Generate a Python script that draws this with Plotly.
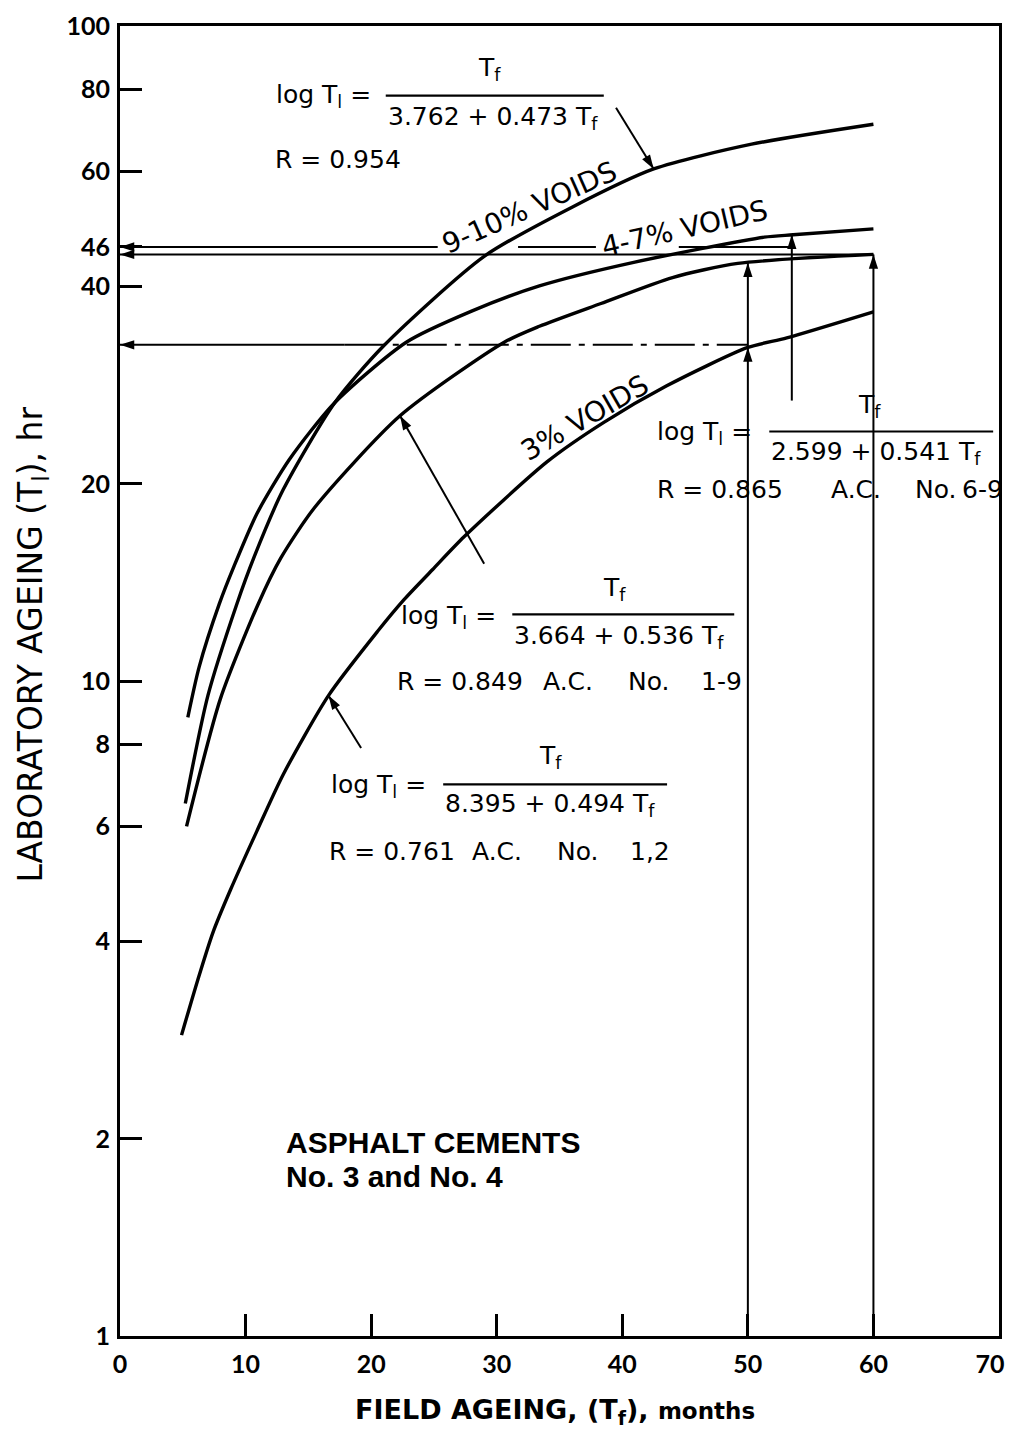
import numpy as np
import plotly.graph_objects as go

# ------------------------------------------------------------------
# Values
# (field ageing Tf in months, laboratory ageing Tl in hours)
# ------------------------------------------------------------------
tf_voids_9_10 = [5.2, 7.0, 9.3, 10.7, 13.0, 17.1, 21.0, 29.0, 36.0, 42.5, 50.3, 60.0]
tl_voids_9_10 = [6.5, 9.5, 13.1, 15.5, 19.6, 26.6, 32.5, 44.5, 52.9, 60.5, 66.0, 70.8]

tf_voids_4_7 = [5.4, 6.3, 7.9, 9.1, 10.9, 13.5, 17.1, 22.8, 28.0, 33.4, 41.0, 51.3, 53.6, 60.0]
tl_voids_4_7 = [8.8, 10.5, 13.1, 15.0, 18.0, 21.8, 26.6, 32.9, 36.7, 40.1, 43.6, 47.6, 48.0, 49.0]

tf_ac_1_9 = [5.3, 8.0, 11.0, 12.8, 15.5, 22.3, 30.6, 33.4, 38.3, 44.0, 49.2, 60.0]
tl_ac_1_9 = [6.0, 9.4, 13.1, 15.4, 18.4, 25.4, 32.9, 34.8, 37.7, 41.3, 43.4, 44.8]

tf_voids_3 = [4.9, 6.2, 7.4, 8.8, 10.9, 13.0, 16.6, 20.5, 22.6, 24.9, 27.4, 34.0, 38.5, 43.5, 50.0, 53.1, 60.0]
tl_voids_3 = [2.88, 3.5, 4.13, 4.8, 5.9, 7.2, 9.5, 11.9, 13.3, 14.8, 16.6, 21.6, 24.8, 28.2, 32.3, 33.4, 36.6]

# construction (read-off) lines
hline_tl = [46.0, 44.8, 32.6]          # laboratory ageing levels carried to the axis
hline_tf_end = [53.5, 60.0, 50.0]      # field ageing where each level line starts
vline_tf = [50.0, 50.0, 53.5, 60.0]
vline_tl_from = [1.0, 32.3, 26.8, 1.0]
vline_tl_to = [32.3, 43.5, 48.0, 44.8]

# pointers from the equations to the curves (tail -> tip)
ptr_tail_tf = [39.5, 29.0, 19.2]
ptr_tail_tl = [75.0, 15.1, 7.9]
ptr_tip_tf = [42.5, 22.3, 16.6]
ptr_tip_tl = [60.5, 25.4, 9.5]

x_ticks = [0, 10, 20, 30, 40, 50, 60, 70]
x_tick_text = ["0", "10", "20", "30", "40", "50", "60", "70\u00a0\u00a0\u00a0"]
y_ticks = [1, 2, 4, 6, 8, 10, 20, 40, 46, 60, 80, 100]
y_tick_text = ["1", "2", "4", "6", "8", "10", "20", "40", "46", "60", "80", "100"]

# ------------------------------------------------------------------
W, H = 1033, 1436
ML, MR, MT, MB = 120, 10, 18, 100
PW = W - ML - MR
PH = H - MT - MB
X_MAX = 70.0
DECADES = 2.0

TXT = "DejaVu Sans"
TICK = "Lato"


def pp(px, py):
    """reference pixel -> paper coordinates (for text placement)"""
    return (px - ML) / PW, (H - MB - py) / PH


def scr(x, y):
    return ML + x / X_MAX * PW, (H - MB) - np.log10(y) / DECADES * PH


fig = go.Figure()

curve_style = dict(color="black", width=3.4, shape="spline", smoothing=0.7)
for xs, ys in [(tf_voids_9_10, tl_voids_9_10), (tf_voids_4_7, tl_voids_4_7),
               (tf_ac_1_9, tl_ac_1_9), (tf_voids_3, tl_voids_3)]:
    fig.add_trace(go.Scatter(x=xs, y=ys, mode="lines", line=curve_style,
                             hoverinfo="skip"))

thin = dict(color="black", width=2)

# horizontal construction lines
# 46 level: broken where the curve labels sit
gaps46 = [(0.0, 25.3), (31.7, 37.9), (44.5, hline_tf_end[0])]
for a, b in gaps46:
    fig.add_trace(go.Scatter(x=[a, b], y=[hline_tl[0]] * 2, mode="lines",
                             line=thin, hoverinfo="skip"))
fig.add_trace(go.Scatter(x=[0, hline_tf_end[1]], y=[hline_tl[1]] * 2, mode="lines",
                         line=thin, hoverinfo="skip"))
fig.add_trace(go.Scatter(x=[0, 17.9], y=[hline_tl[2]] * 2, mode="lines",
                         line=thin, hoverinfo="skip"))
fig.add_trace(go.Scatter(x=[17.9, hline_tf_end[2]], y=[hline_tl[2]] * 2, mode="lines",
                         line=dict(color="black", width=2, dash="40px,8px,6px,8px"),
                         hoverinfo="skip"))

# vertical construction lines
for xv, y0, y1 in zip(vline_tf, vline_tl_from, vline_tl_to):
    fig.add_trace(go.Scatter(x=[xv, xv], y=[y0, y1], mode="lines", line=thin,
                             hoverinfo="skip"))

# pointer lines
for xt, yt, xh, yh in zip(ptr_tail_tf, ptr_tail_tl, ptr_tip_tf, ptr_tip_tl):
    fig.add_trace(go.Scatter(x=[xt, xh], y=[yt, yh], mode="lines", line=thin,
                             hoverinfo="skip"))

# arrow heads
tips_x, tips_y, angs = [], [], []


def head(xt, yt, xh, yh):
    sx0, sy0 = scr(xt, yt)
    sx1, sy1 = scr(xh, yh)
    ang = np.degrees(np.arctan2(sx1 - sx0, -(sy1 - sy0)))
    tips_x.append(xh)
    tips_y.append(yh)
    angs.append(float(ang))


head(25.3, hline_tl[0], 0, hline_tl[0])
head(hline_tf_end[1], hline_tl[1], 0, hline_tl[1])
head(17.9, hline_tl[2], 0, hline_tl[2])
for xv, y0, y1 in zip(vline_tf, vline_tl_from, vline_tl_to):
    head(xv, y0, xv, y1)
for xt, yt, xh, yh in zip(ptr_tail_tf, ptr_tail_tl, ptr_tip_tf, ptr_tip_tl):
    head(xt, yt, xh, yh)

fig.add_trace(go.Scatter(x=tips_x, y=tips_y, mode="markers", cliponaxis=False,
                         marker=dict(symbol="arrow", size=15, angle=angs,
                                     color="black", line=dict(width=0)),
                         hoverinfo="skip"))

# ------------------------------------------------------------------
ann = []


def text(t, px, py, size=25, anchor="left", angle=0, family=TXT, weight="normal"):
    x, y = pp(px, py)
    ann.append(dict(text=t, x=x, y=y, xref="paper", yref="paper", showarrow=False,
                    xanchor=anchor, yanchor="middle", textangle=angle,
                    font=dict(family=family, size=size, color="black", weight=weight)))


shapes = []


def bar(px0, px1, py):
    x0, y0 = pp(px0, py)
    x1, _ = pp(px1, py)
    shapes.append(dict(type="line", xref="paper", yref="paper", x0=x0, x1=x1,
                       y0=y0, y1=y0, line=dict(color="black", width=2.2)))


LOG = "log T<sub>l</sub> ="
TF = "T<sub>f</sub>"

# equation 1 (top)
text(LOG, 278, 88)
text(TF, 500, 61, anchor="center")
bar(393, 617, 88)
text("3.762 + 0.473 " + TF, 393, 111)
text("R = 0.954", 277, 152)

# equation 2 (right)
text(LOG, 670, 427)
text(TF, 890, 400, anchor="center")
bar(787, 1017, 426)
text("2.599 + 0.541 " + TF, 787, 448)
text("R = 0.865", 670, 484)
text("A.C.", 848, 484)
text("No.", 935, 484)
text("6-9", 983, 484)

# equation 3 (middle)
text(LOG, 407, 613)
text(TF, 628, 584, anchor="center")
bar(523, 751, 610)
text("3.664 + 0.536 " + TF, 523, 633)
text("R = 0.849", 402, 678)
text("A.C.", 552, 678)
text("No.", 640, 678)
text("1-9", 715, 678)

# equation 4 (lower)
text(LOG, 335, 783)
text(TF, 562, 753, anchor="center")
bar(452, 682, 781)
text("8.395 + 0.494 " + TF, 452, 802)
text("R = 0.761", 333, 849)
text("A.C.", 480, 849)
text("No.", 567, 849)
text("1,2", 642, 849)

# curve labels
text("9-10% VOIDS", 541, 201, size=28, anchor="center", angle=-24)
text("4-7% VOIDS", 700, 222, size=28, anchor="center", angle=-13)
text("3% VOIDS", 598, 412, size=28, anchor="center", angle=-30)

# legend box text
text("ASPHALT CEMENTS", 288, 1141, size=30, family="Liberation Sans", weight="bold")
text("No. 3 and No. 4", 288, 1176, size=30, family="Liberation Sans", weight="bold")

# axis titles
text("FIELD AGEING, (T<sub>f</sub>), <span style='font-size:23px'>months</span>",
     567, 1412, size=27, anchor="center", weight="bold")
text("LABORATORY AGEING (T<sub>l</sub>), hr", 30, 640, size=33, anchor="center", angle=-90)

axis_common = dict(showline=True, linewidth=3, linecolor="black", mirror=True,
                   ticks="inside", ticklen=22, tickwidth=2.5, tickcolor="black",
                   showgrid=False, zeroline=False, ticklabeloverflow="allow",
                   tickfont=dict(family=TICK, size=25, color="black", weight="bold"))

fig.update_layout(
    width=W, height=H,
    margin=dict(l=ML, r=MR, t=MT, b=MB),
    paper_bgcolor="white", plot_bgcolor="white",
    showlegend=False,
    xaxis=dict(range=[0, X_MAX], tickmode="array", tickvals=x_ticks,
               ticktext=x_tick_text, ticklabelstandoff=4, **axis_common),
    yaxis=dict(type="log", range=[0, DECADES], tickmode="array", tickvals=y_ticks,
               ticktext=y_tick_text, ticklabelstandoff=2, **axis_common),
    annotations=ann,
    shapes=shapes,
)

fig.write_html("out.html")
